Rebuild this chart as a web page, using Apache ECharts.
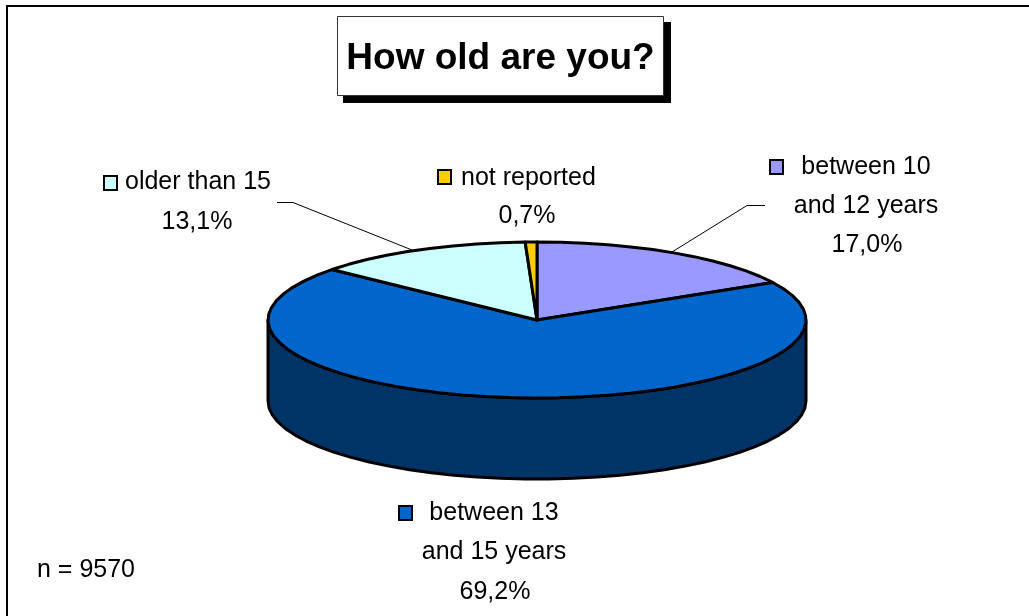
<!DOCTYPE html>
<html><head><meta charset="utf-8">
<style>html,body{margin:0;padding:0;background:#fff}#c{width:1029px;height:616px}</style>
<script src="https://cdn.jsdelivr.net/npm/echarts@6/dist/echarts.min.js"></script>
</head><body><div id="c"></div>
<script>
var categories = ['between 10\nand 12 years', 'between 13\nand 15 years', 'older than 15', 'not reported'];
var shares = [17.0, 69.2, 13.1, 0.7];
var percentLabels = ['17,0%', '69,2%', '13,1%', '0,7%'];
var colors = ['#9999FF', '#0066CC', '#CCFFFF', '#FFCC00'];
var sideColor = '#003366';
var titleText = 'How old are you?';
var noteText = 'n = 9570';

var pie = {cx: 537, cy: 320, rx: 269, ry: 78, depth: 81};
var labelLayout = [
  {lines: [[866,167],[866,206],[867,245]], marker: [769,159]},
  {lines: [[494,513],[494,552],[495,592]], marker: [398,505]},
  {lines: [[197,182],[197,222]], marker: [103,175], first: 125},
  {lines: [[528,178],[527,216]], marker: [437,169], first: 461}
];
var leaders = [
  [[765,205.5],[747,205.5],[672,252]],
  null,
  [[277,202.5],[293,202.5],[412,250]],
  null
];
var total = shares.reduce(function(a,b){return a+b;},0);
function pt(a, dy){ return [pie.cx + pie.rx*Math.sin(a), pie.cy - pie.ry*Math.cos(a) + (dy||0)]; }
function arc(a0, a1, dy){
  var n = Math.max(1, Math.round(Math.abs(a1-a0)/0.09)), p = [];
  for (var i=0;i<=n;i++) p.push(pt(a0+(a1-a0)*i/n, dy));
  return p;
}
function renderItem(params, api){
  var i = params.dataIndex, v = api.value(0), start = 0;
  for (var k=0;k<i;k++) start += shares[k];
  var a0 = start/total*2*Math.PI, a1 = (start+v)/total*2*Math.PI;
  var ch = [];
  var fill = colors[i];
  var sa0 = Math.max(a0, Math.PI/2), sa1 = Math.min(a1, 3*Math.PI/2);
  if (sa1 > sa0) {
    var sidePts = arc(sa0, sa1, 0).concat(arc(sa1, sa0, pie.depth));
    ch.push({type:'polygon', shape:{points:sidePts}, style:{fill:sideColor, stroke:'#000', lineWidth:3, lineJoin:'round'}});
  }
  var top = [[pie.cx,pie.cy]].concat(arc(a0,a1,0));
  ch.push({type:'polygon', shape:{points:top}, style:{fill:fill, stroke:'#000', lineWidth:3, lineJoin:'round'}});
  var L = labelLayout[i];
  if (leaders[i]) ch.push({type:'polyline', shape:{points:leaders[i]}, style:{fill:null, stroke:'#000', lineWidth:1}});
  ch.push({type:'rect', shape:{x:L.marker[0]+1,y:L.marker[1]+1,width:13,height:14}, style:{fill:fill, stroke:'#000', lineWidth:2}});
  var lines = categories[i].split('\n').concat([percentLabels[i]]);
  lines.forEach(function(t,j){
    var first = (j===0 && L.first);
    ch.push({type:'text', style:{text:t, x: first ? L.first : L.lines[j][0], y:L.lines[j][1],
      align: first ? 'left':'center', verticalAlign:'middle',
      font:'25px "Liberation Sans", Arial, sans-serif', fill:'#000'}});
  });
  return {type:'group', children:ch};
}
var chart = echarts.init(document.getElementById('c'), null, {renderer:'canvas'});
chart.setOption({
  animation:false,
  backgroundColor:'#fff',
  xAxis:{show:false,type:'value'}, yAxis:{show:false,type:'value'},
  grid:{left:0,right:0,top:0,bottom:0},
  graphic:[
    {type:'polyline', silent:true, shape:{points:[[7,616],[7,6],[1029,6]]}, style:{fill:null,stroke:'#000',lineWidth:2}},
    {type:'rect', shape:{x:343,y:22,width:328,height:81}, style:{fill:'#000'}},
    {type:'rect', shape:{x:337.5,y:16.5,width:326,height:79}, style:{fill:'#fff',stroke:'#333',lineWidth:1}},
    {type:'text', style:{text:titleText,x:500.5,y:59,align:'center',verticalAlign:'middle',font:'bold 37px "Liberation Sans", Arial, sans-serif',fill:'#000'}},
    {type:'text', style:{text:noteText,x:37,y:570,align:'left',verticalAlign:'middle',font:'25px "Liberation Sans", Arial, sans-serif',fill:'#000'}}
  ],
  series:[{type:'custom', coordinateSystem:'none', renderItem:renderItem, data:shares.map(function(v){return [v];}), clip:false}]
});
</script></body></html>
